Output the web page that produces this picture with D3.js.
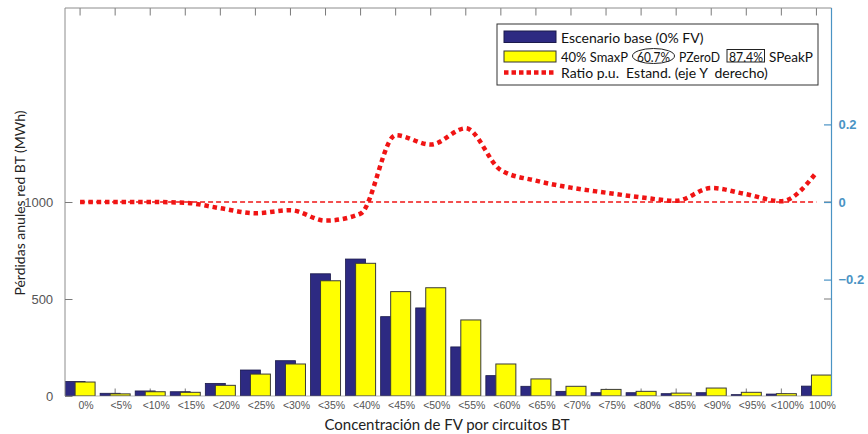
<!DOCTYPE html>
<html>
<head>
<meta charset="utf-8">
<script src="https://cdn.jsdelivr.net/npm/d3@7"></script>
<style>
  html, body { margin: 0; padding: 0; background: #fff; }
  svg { display: block; }
  text.pre { white-space: pre; }
</style>
</head>
<body>
<svg id="chart" width="868" height="434"></svg>
<script>
// Concentration classes of PV per LV circuit
const categories = ["0%", "<5%", "<10%", "<15%", "<20%", "<25%", "<30%", "<35%", "<40%", "<45%", "<50%",
  "<55%", "<60%", "<65%", "<70%", "<75%", "<80%", "<85%", "<90%", "<95%", "<100%", "100%"];

// Annual LV network losses (MWh), base scenario (0% PV)
const baseLosses = [75, 14, 26, 22, 65, 134, 182, 630, 706, 409, 454, 253, 105, 50, 24, 17, 17, 12, 17, 7, 10, 51];

// Annual LV network losses (MWh), 40% SmaxP scenario
const pvLosses = [72, 11, 22, 19, 55, 113, 165, 594, 684, 538, 558, 392, 165, 88, 50, 34, 24, 15, 41, 19, 12, 108];

// Standardised p.u. ratio (right axis)
const ratioPU = [0, 0, 0, -0.002, -0.016, -0.029, -0.021, -0.048, -0.030, 0.172, 0.148, 0.190,
  0.082, 0.055, 0.037, 0.024, 0.012, 0.003, 0.036, 0.020, 0.002, 0.076];

const leftTicks = [0, 500, 1000];
const rightTicks = [-0.2, 0, 0.2];

const legendBase = "Escenario base (0% FV)";
const legendPV = ["40% SmaxP", "60.7%", "PZeroD", "87.4%", "SPeakP"];
const legendRatio = "Ratio p.u.  Estand. (eje Y  derecho)";

const xTitle = "Concentración de FV por circuitos BT";
const yTitle = "Pérdidas anules red BT (MWh)";

// ---- layout ----
const plot = { left: 65, right: 831.5, top: 8, bottom: 396 };
const svg = d3.select("#chart");

const idx = d3.range(1, categories.length + 1);
const x = d3.scaleLinear().domain([0.57, 22.43]).range([plot.left, plot.right]);
const yL = d3.scaleLinear().domain([0, 2000]).range([plot.bottom, plot.top]);
const yR = d3.scaleLinear().domain([-0.5, 0.5]).range([plot.bottom, plot.top]);

const barW = x(1.57) - x(1);
const barShift = x(1.143) - x(1);

const AXIS_GREY = "#8c8c8c";
const TICK_GREY = "#7a7a7a";
const LABEL_GREY = "#555";
const RIGHT_BLUE = "#4a93c4";
const BAR_BLUE = "#2d2a82";
const BAR_YELLOW = "#ffff00";
const RED = "#f01414";
const TEXT_FONT = "Lato, 'Open Sans', sans-serif";
const NUM_FONT = "'Liberation Sans', Arial, sans-serif";

svg.append("defs").append("clipPath").attr("id", "plotClip")
  .append("rect")
  .attr("x", plot.left).attr("y", plot.top)
  .attr("width", plot.right - plot.left).attr("height", plot.bottom - plot.top);

// ---- category ticks (bottom, drawn under bars; mirrored on top) ----
const tickLen = 7.5;
const tickG = svg.append("g").attr("stroke", TICK_GREY).attr("stroke-width", 1);
tickG.selectAll("line.bt").data(idx).join("line").attr("class", "bt")
  .attr("x1", d => x(d)).attr("x2", d => x(d))
  .attr("y1", plot.bottom).attr("y2", plot.bottom - tickLen);
tickG.selectAll("line.tt").data(idx).join("line").attr("class", "tt")
  .attr("x1", d => x(d)).attr("x2", d => x(d))
  .attr("y1", plot.top).attr("y2", plot.top + tickLen);

// ---- bars ----
const barsG = svg.append("g").attr("clip-path", "url(#plotClip)");
barsG.selectAll("rect.base").data(baseLosses).join("rect").attr("class", "base")
  .attr("x", (d, i) => x(i + 1) - barShift - barW / 2)
  .attr("y", d => yL(d))
  .attr("width", barW)
  .attr("height", d => yL(0) - yL(d))
  .attr("fill", BAR_BLUE)
  .attr("stroke", "#1b1a4a").attr("stroke-width", 0.8);
barsG.selectAll("rect.pv").data(pvLosses).join("rect").attr("class", "pv")
  .attr("x", (d, i) => x(i + 1) + barShift - barW / 2)
  .attr("y", d => yL(d))
  .attr("width", barW)
  .attr("height", d => yL(0) - yL(d))
  .attr("fill", BAR_YELLOW)
  .attr("stroke", "#3a3a3a").attr("stroke-width", 1);

// ---- zero reference of the ratio ----
svg.append("line")
  .attr("x1", x(1)).attr("x2", x(categories.length))
  .attr("y1", yR(0)).attr("y2", yR(0))
  .attr("stroke", RED).attr("stroke-width", 1.4)
  .attr("stroke-dasharray", "5,3");

// ---- ratio curve ----
const ratioLine = d3.line()
  .x((d, i) => x(i + 1))
  .y(d => yR(d))
  .curve(d3.curveMonotoneX);
svg.append("path").datum(ratioPU)
  .attr("d", ratioLine)
  .attr("fill", "none")
  .attr("stroke", RED)
  .attr("stroke-width", 4.5)
  .attr("stroke-dasharray", "4.5,3.8");

// ---- left axis ----
const leftAxis = d3.axisLeft(yL).tickValues(leftTicks).tickSize(-tickLen).tickPadding(8)
  .tickFormat(d3.format("d"));
const gL = svg.append("g").attr("transform", `translate(${plot.left},0)`).call(leftAxis);
gL.select(".domain").attr("stroke", AXIS_GREY).attr("d", `M0,${plot.top}V${plot.bottom}`);
gL.selectAll(".tick line").attr("stroke", TICK_GREY);
gL.selectAll(".tick text").attr("fill", LABEL_GREY).attr("font-family", NUM_FONT).attr("font-size", 13)
  .attr("dx", "-0.3em");

// grey mirror of left ticks on the right edge
svg.append("g").selectAll("line").data(leftTicks.filter(d => d > 0)).join("line")
  .attr("x1", plot.right).attr("x2", plot.right - tickLen)
  .attr("y1", d => yL(d)).attr("y2", d => yL(d))
  .attr("stroke", TICK_GREY);

// ---- top and bottom frame ----
svg.append("line").attr("x1", plot.left).attr("x2", plot.right)
  .attr("y1", plot.top).attr("y2", plot.top).attr("stroke", AXIS_GREY);
svg.append("line").attr("x1", plot.left).attr("x2", plot.right)
  .attr("y1", plot.bottom).attr("y2", plot.bottom).attr("stroke", AXIS_GREY).attr("stroke-width", 0.6);

// ---- right axis ----
const rightAxis = d3.axisRight(yR).tickValues(rightTicks).tickSize(-tickLen).tickPadding(7)
  .tickFormat(d => d === 0 ? "0" : d3.format(".1f")(d));
const gR = svg.append("g").attr("transform", `translate(${plot.right},0)`).call(rightAxis);
gR.select(".domain").attr("stroke", RIGHT_BLUE).attr("stroke-width", 1.2)
  .attr("d", `M0,${plot.top}V${plot.bottom}`);
gR.selectAll(".tick line").attr("stroke", RIGHT_BLUE).attr("stroke-width", 1.2);
gR.selectAll(".tick text").attr("fill", RIGHT_BLUE).attr("font-family", NUM_FONT)
  .attr("font-size", 13).attr("font-weight", "bold");

// ---- category labels ----
svg.append("g").selectAll("text").data(categories).join("text")
  .attr("x", (d, i) => x(i + 1) + 6)
  .attr("y", 409)
  .attr("text-anchor", "middle")
  .attr("font-family", NUM_FONT).attr("font-size", 10.5)
  .attr("fill", LABEL_GREY)
  .text(d => d);

// ---- axis titles ----
svg.append("text")
  .attr("x", 447).attr("y", 430)
  .attr("text-anchor", "middle")
  .attr("font-family", TEXT_FONT).attr("font-size", 15)
  .attr("fill", "#222")
  .text(xTitle);
svg.append("text")
  .attr("transform", `translate(25,203) rotate(-90)`)
  .attr("text-anchor", "middle")
  .attr("font-family", TEXT_FONT).attr("font-size", 14)
  .attr("fill", "#222")
  .text(yTitle);

// ---- legend ----
const lg = svg.append("g").attr("font-family", TEXT_FONT).attr("font-size", 14).attr("fill", "#111");
lg.append("rect").attr("x", 497).attr("y", 24).attr("width", 321).attr("height", 61)
  .attr("fill", "#fff").attr("stroke", "#333").attr("stroke-width", 1);

const swX = 504, swW = 52, txtX = 561;
lg.append("rect").attr("x", swX).attr("y", 31).attr("width", swW).attr("height", 11.5)
  .attr("fill", BAR_BLUE).attr("stroke", "#1b1a4a");
lg.append("text").attr("x", txtX).attr("y", 42.5).text(legendBase);

lg.append("rect").attr("x", swX).attr("y", 51).attr("width", swW).attr("height", 11)
  .attr("fill", BAR_YELLOW).attr("stroke", "#333");

// second row: mixed text, the two figures framed by an ellipse and a box
const rowY = 61.5;
const pieceX = [txtX, 637, 679, 729, 769];
const pieceW = [67, 33, 41, 34, 44];
legendPV.forEach((s, k) => {
  lg.append("text").attr("x", pieceX[k]).attr("y", rowY)
    .attr("textLength", pieceW[k]).attr("lengthAdjust", "spacingAndGlyphs")
    .text(s);
  if (k === 1) {
    lg.append("ellipse").attr("cx", pieceX[k] + pieceW[k] / 2).attr("cy", rowY - 5.5)
      .attr("rx", pieceW[k] / 2 + 4.5).attr("ry", 7.5)
      .attr("fill", "none").attr("stroke", "#222").attr("stroke-width", 1);
  }
  if (k === 3) {
    lg.append("rect").attr("x", pieceX[k] - 2).attr("y", rowY - 12).attr("width", pieceW[k] + 3.5).attr("height", 12.5)
      .attr("fill", "none").attr("stroke", "#222").attr("stroke-width", 1);
  }
});

lg.append("line").attr("x1", swX).attr("x2", swX + swW).attr("y1", 72.5).attr("y2", 72.5)
  .attr("stroke", RED).attr("stroke-width", 4.5).attr("stroke-dasharray", "4.5,3");
lg.append("text").attr("class", "pre").attr("x", txtX).attr("y", 77.5).text(legendRatio);
</script>
</body>
</html>
